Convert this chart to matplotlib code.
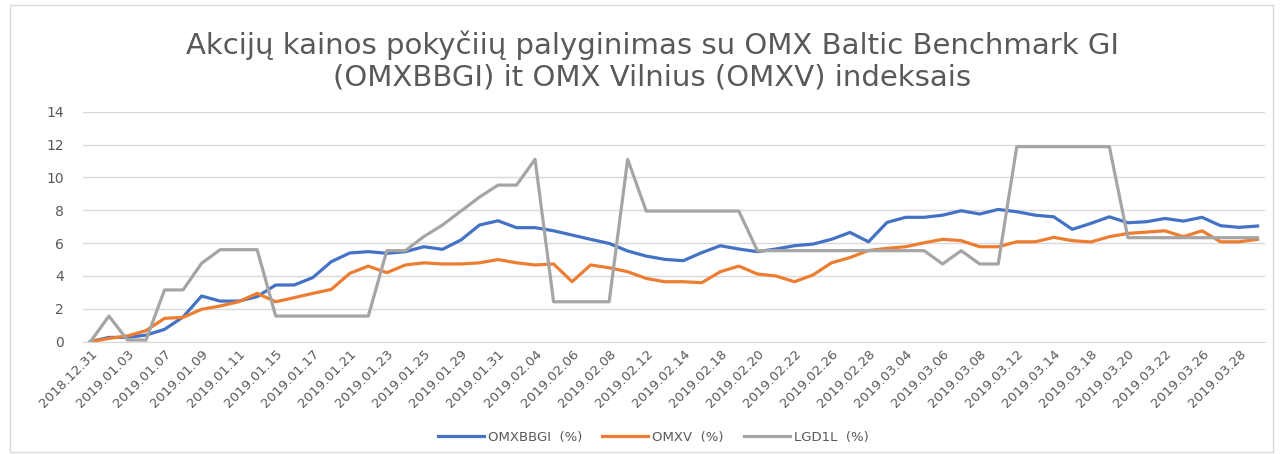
import matplotlib
matplotlib.use("Agg")
import matplotlib.pyplot as plt
from matplotlib.patches import Rectangle

# trading days, 2018.12.31 - 2019.03.29
dates = [
    "2018.12.31", "2019.01.02", "2019.01.03", "2019.01.04", "2019.01.07", "2019.01.08",
    "2019.01.09", "2019.01.10", "2019.01.11", "2019.01.14", "2019.01.15", "2019.01.16",
    "2019.01.17", "2019.01.18", "2019.01.21", "2019.01.22", "2019.01.23", "2019.01.24",
    "2019.01.25", "2019.01.28", "2019.01.29", "2019.01.30", "2019.01.31", "2019.02.01",
    "2019.02.04", "2019.02.05", "2019.02.06", "2019.02.07", "2019.02.08", "2019.02.11",
    "2019.02.12", "2019.02.13", "2019.02.14", "2019.02.15", "2019.02.18", "2019.02.19",
    "2019.02.20", "2019.02.21", "2019.02.22", "2019.02.25", "2019.02.26", "2019.02.27",
    "2019.02.28", "2019.03.01", "2019.03.04", "2019.03.05", "2019.03.06", "2019.03.07",
    "2019.03.08", "2019.03.11", "2019.03.12", "2019.03.13", "2019.03.14", "2019.03.15",
    "2019.03.18", "2019.03.19", "2019.03.20", "2019.03.21", "2019.03.22", "2019.03.25",
    "2019.03.26", "2019.03.27", "2019.03.28", "2019.03.29",
]

omxbbgi = [
    0.0, 0.26, 0.26, 0.40, 0.75, 1.50, 2.78, 2.47, 2.47, 2.74, 3.45, 3.45,
    3.90, 4.87, 5.40, 5.48, 5.38, 5.48, 5.78, 5.62, 6.19, 7.10, 7.36, 6.94,
    6.94, 6.75, 6.49, 6.23, 5.98, 5.52, 5.21, 5.01, 4.93, 5.42, 5.84, 5.64,
    5.48, 5.64, 5.84, 5.94, 6.23, 6.65, 6.08, 7.26, 7.57, 7.57, 7.70, 7.97,
    7.77, 8.05, 7.91, 7.70, 7.60, 6.84, 7.20, 7.60, 7.24, 7.30, 7.50, 7.34,
    7.57, 7.06, 6.96, 7.04,
]

omxv = [
    0.0, 0.20, 0.35, 0.67, 1.42, 1.48, 1.97, 2.17, 2.43, 2.94, 2.43, 2.68,
    2.94, 3.18, 4.16, 4.60, 4.20, 4.67, 4.80, 4.73, 4.73, 4.80, 5.00, 4.80,
    4.67, 4.73, 3.65, 4.67, 4.50, 4.26, 3.85, 3.65, 3.65, 3.59, 4.26, 4.60,
    4.12, 4.00, 3.65, 4.06, 4.80, 5.12, 5.55, 5.68, 5.78, 6.02, 6.23, 6.15,
    5.78, 5.78, 6.08, 6.08, 6.35, 6.15, 6.07, 6.39, 6.59, 6.67, 6.75, 6.39,
    6.75, 6.08, 6.08, 6.23,
]

lgd1l = [
    0.0, 1.56, 0.10, 0.10, 3.15, 3.15, 4.77, 5.6, 5.6, 5.6, 1.56, 1.56,
    1.56, 1.56, 1.56, 1.56, 5.54, 5.54, 6.40, 7.10, 7.95, 8.80, 9.53, 9.53,
    11.10, 2.43, 2.43, 2.43, 2.43, 11.10, 7.95, 7.95, 7.95, 7.95, 7.95, 7.95,
    5.54, 5.54, 5.54, 5.54, 5.54, 5.54, 5.54, 5.54, 5.54, 5.54, 4.73, 5.54,
    4.73, 4.73, 11.87, 11.87, 11.87, 11.87, 11.87, 11.87, 6.33, 6.33, 6.33, 6.33,
    6.33, 6.33, 6.33, 6.33,
]

series = [
    ("OMXBBGI  (%)", omxbbgi, "#4472C4"),
    ("OMXV  (%)", omxv, "#ED7D31"),
    ("LGD1L  (%)", lgd1l, "#A5A5A5"),
]

title = ("Akcijų kainos pokyčiių palyginimas su OMX Baltic Benchmark GI\n"
         "(OMXBBGI) it OMX Vilnius (OMXV) indeksais")

text_color = "#595959"

fig = plt.figure(figsize=(12.81, 4.54), dpi=100)
ax = fig.add_axes([0.0648, 0.2474, 0.9227, 0.5066])

x = list(range(len(dates)))
for label, values, color in series:
    ax.plot(x, values, color=color, lw=2.3, label=label, solid_joinstyle="round")

ax.set_xlim(-0.4, len(dates) - 0.6)
ax.set_ylim(0, 14)
ax.set_yticks(range(0, 15, 2))
ax.set_xticks(x[::2])
ax.set_xticklabels(dates[::2], rotation=45, ha="right", rotation_mode="anchor",
                   fontsize=9.5, color=text_color)
ax.tick_params(axis="y", labelsize=10, labelcolor=text_color, length=0, pad=14)
ax.tick_params(axis="x", length=0, pad=4)
ax.grid(axis="y", color="#D9D9D9", lw=1)
ax.set_axisbelow(True)
for side in ["top", "right", "left"]:
    ax.spines[side].set_visible(False)
ax.spines["bottom"].set_color("#D9D9D9")

fig.text(0.509, 0.866, title, ha="center", va="center", fontsize=21,
         color=text_color, linespacing=1.15)

fig.legend(loc="center", bbox_to_anchor=(0.51, 0.037), ncol=3, frameon=False,
           fontsize=9.5, labelcolor=text_color, handlelength=3.5,
           columnspacing=1.5, handletextpad=0.3)

# chart border
fig.patches.append(Rectangle((0.008, 0.005), 0.986, 0.985, transform=fig.transFigure,
                             fill=False, edgecolor="#D9D9D9", lw=1))

fig.savefig("out.png", dpi=100)
